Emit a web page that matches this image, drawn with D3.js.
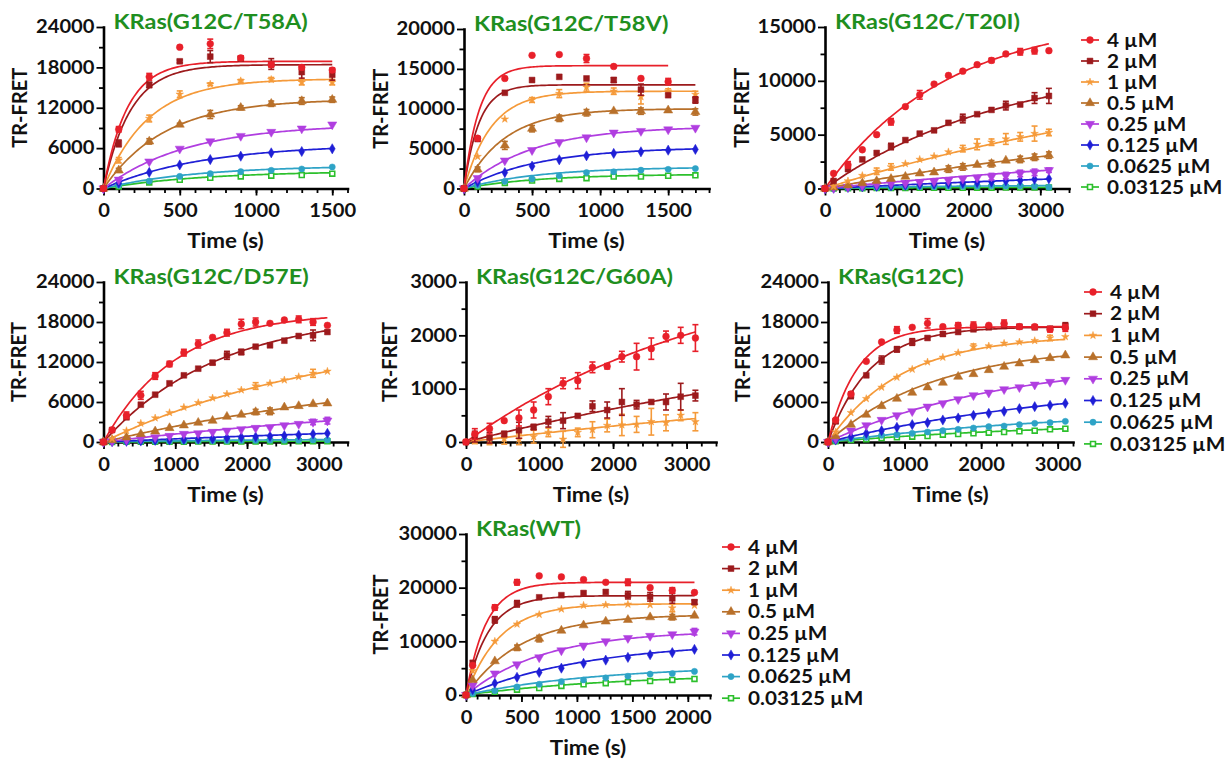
<!DOCTYPE html>
<html>
<head>
<meta charset="utf-8">
<script src="https://cdn.jsdelivr.net/npm/d3@7"></script>
<style>
  body { margin: 0; background: #fff; }
  svg text { font-family: Lato, "Open Sans", sans-serif; font-weight: 700; fill: #111; }
</style>
</head>
<body>
<svg id="chart" width="1231" height="765"></svg>
<script>
// ---- series labels / colours ----
const concLabels = ['4 µM', '2 µM', '1 µM', '0.5 µM', '0.25 µM', '0.125 µM', '0.0625 µM', '0.03125 µM'];
const seriesColors = ['#e8202a', '#9c1a1c', '#f59a3a', '#b8702a', '#b03ee0', '#1f1fd6', '#2ea3c6', '#2cc02c'];
const seriesShapes = ['circle', 'square', 'star', 'triangle', 'triangleDown', 'diamond', 'hexagon', 'squareOpen'];

// ---- KRas(G12C/T58A) ----
const t58aTimes = [0, 100, 300, 500, 700, 900, 1100, 1300, 1500];
const t58aValues = [
  [0, 8800, 16600, 21000, 21500, 19400, 18400, 18000, 17600],
  [0, 6700, 15400, 18900, 19600, 19300, 18500, 17300, 16900],
  [0, 4200, 10400, 14000, 15500, 16000, 16200, 15800, 15800],
  [0, 2700, 7000, 9500, 11000, 12000, 12600, 13000, 13200],
  [0, 1300, 4000, 5900, 7000, 7800, 8400, 8900, 9500],
  [0, 800, 2400, 3500, 4300, 4800, 5300, 5500, 5900],
  [0, 500, 1100, 1800, 2200, 2500, 2700, 2900, 3200],
  [0, 300, 900, 1300, 1600, 1800, 1900, 2000, 2200]
];
const t58aErr = [
  [0, 400, 500, 0, 700, 300, 400, 300, 300],
  [0, 500, 400, 200, 900, 300, 800, 900, 800],
  [0, 400, 500, 500, 200, 200, 300, 400, 400],
  [0, 300, 400, 200, 600, 300, 400, 500, 400]
];
const t58aPlateau = [18900, 18400, 16300, 13300, 9600, 6600, 3400, 2600];
const t58aTau = [156, 178, 290, 400, 550, 650, 600, 650];

// ---- KRas(G12C/T58V) ----
const t58vTimes = [0, 100, 300, 500, 700, 900, 1100, 1300, 1500, 1700];
const t58vValues = [
  [0, 6300, 13800, 16700, 16800, 16300, 15300, 13800, 13400],
  [0, 6200, 12000, 13600, 14000, 13800, 13600, 12400, 11700, 11100],
  [0, 4000, 8700, 11100, 11900, 12700, 12200, 11500, 12200, 11800],
  [0, 2400, 5400, 7500, 8800, 9500, 9700, 9700, 9800, 9600],
  [0, 1300, 3500, 4800, 5800, 6400, 7000, 7200, 7400, 7600],
  [0, 800, 2000, 2800, 3600, 4100, 4400, 4600, 4800, 4900],
  [0, 400, 900, 1200, 1600, 2000, 2100, 2300, 2400, 2500],
  [0, 250, 700, 1000, 1200, 1300, 1500, 1500, 1600, 1650]
];
const t58vErr = [
  [0, 0, 0, 0, 0, 500, 0, 0, 400],
  [0, 0, 0, 0, 0, 0, 300, 700, 0, 400],
  [0, 0, 0, 300, 500, 500, 400, 900, 300, 400],
  [0, 300, 500, 400, 400, 400, 0, 400, 0, 400]
];
const t58vPlateau = [15400, 13000, 12200, 10000, 7800, 5200, 2700, 1800];
const t58vTau = [110, 110, 200, 300, 500, 550, 550, 550];

// ---- KRas(G12C/T20I) ----
const t20iTimes = [0, 120, 320, 520, 720, 920, 1120, 1320, 1520, 1720, 1920, 2120, 2320, 2520, 2720, 2920, 3120];
const t20iValues = [
  [0, 1400, 2200, 3600, 5000, 6200, 7600, 8700, 9700, 10500, 10900, 11500, 11900, 12500, 12700, 12800, 12800],
  [0, 700, 1800, 2700, 3300, 3900, 4500, 5100, 5400, 6100, 6500, 6900, 7300, 7700, 7800, 8400, 8600],
  [0, 200, 700, 1200, 1600, 2000, 2300, 2700, 3000, 3400, 3700, 4100, 4300, 4600, 4800, 5100, 5200],
  [0, 100, 300, 500, 700, 900, 1100, 1400, 1500, 1800, 2000, 2200, 2300, 2600, 2700, 2900, 3100],
  [0, 50, 150, 250, 350, 450, 500, 600, 650, 750, 900, 1000, 1100, 1200, 1400, 1500, 1700],
  [0, 30, 100, 150, 200, 250, 300, 350, 400, 450, 500, 550, 600, 700, 750, 850, 900],
  [0, 20, 50, 80, 100, 120, 150, 160, 180, 200, 200, 220, 250, 230, 250, 200, 120],
  [0, 10, 20, 30, 40, 50, 50, 60, 60, 70, 70, 80, 80, 90, 90, 100, 100]
];
const t20iErr = [
  [0, 0, 300, 0, 0, 300, 0, 400, 0, 0, 0, 0, 200, 0, 300, 300, 0],
  [0, 0, 0, 0, 0, 300, 0, 0, 0, 0, 400, 0, 0, 400, 0, 500, 700],
  [0, 0, 0, 0, 300, 300, 0, 0, 0, 0, 300, 500, 300, 500, 400, 700, 300],
  [0, 0, 0, 0, 0, 0, 0, 0, 0, 300, 300, 0, 300, 0, 300, 300, 300],
  [0, 0, 0, 0, 0, 0, 0, 0, 0, 0, 0, 0, 300, 300, 300, 300, 200]
];
const t20iPlateau = [16000, 12000, 12000, 8000, 5000, 3000, 300, 120];
const t20iTau = [1700, 2500, 5500, 6500, 7500, 9000, 1500, 1500];

// ---- KRas(G12C/D57E) ----
const d57eTimes = t20iTimes;
const d57eValues = [
  [0, 1800, 4000, 7000, 9900, 11700, 13400, 14700, 15700, 16400, 17700, 18000, 17800, 18300, 18400, 18000, 17500],
  [0, 1800, 3700, 5600, 7100, 8800, 10000, 11000, 11900, 13000, 13500, 14300, 14500, 15200, 15900, 16000, 16500],
  [0, 500, 1700, 2800, 3600, 4400, 5200, 5900, 6600, 7200, 7800, 8400, 8800, 9300, 9800, 10300, 10600],
  [0, 300, 700, 1200, 1600, 2100, 2500, 2900, 3200, 3800, 4100, 4500, 4600, 5200, 5400, 5700, 5800],
  [0, 100, 300, 500, 700, 900, 1200, 1300, 1500, 1700, 1900, 2100, 2200, 2500, 2700, 3000, 3200],
  [0, 50, 100, 150, 250, 300, 400, 450, 500, 600, 700, 750, 850, 950, 1050, 1200, 1300],
  [0, 20, 50, 80, 100, 120, 150, 170, 190, 200, 220, 240, 260, 270, 280, 300, 300],
  [0, 10, 20, 30, 40, 50, 50, 60, 60, 70, 80, 80, 90, 90, 100, 100, 100]
];
const d57eErr = [
  [0, 0, 500, 600, 500, 400, 500, 600, 0, 500, 700, 600, 0, 0, 500, 500, 0],
  [0, 0, 0, 0, 0, 0, 0, 0, 300, 600, 400, 0, 0, 0, 0, 800, 0],
  [0, 0, 0, 0, 0, 0, 0, 0, 0, 0, 0, 500, 0, 0, 0, 600, 0],
  [0, 0, 0, 0, 0, 0, 0, 0, 0, 0, 0, 400, 500, 0, 0, 0, 0],
  [0, 0, 0, 0, 0, 0, 0, 0, 0, 0, 0, 0, 0, 0, 0, 400, 500]
];
const d57ePlateau = [19500, 19500, 17000, 12000, 8000, 4000, 450, 150];
const d57eTau = [1000, 1600, 3200, 4600, 6200, 8000, 2000, 2000];

// ---- KRas(G12C/G60A) ----
const g60aTimes = t20iTimes;
const g60aValues = [
  [0, 150, 250, 400, 450, 600, 850, 1100, 1150, 1400, 1420, 1600, 1600, 1750, 1980, 2000, 1950],
  [0, 100, 80, 150, 220, 280, 380, 400, 490, 670, 600, 750, 700, 750, 750, 850, 870],
  [0, 20, 30, 60, 50, 100, 180, 50, 180, 230, 310, 320, 330, 380, 360, 500, 380]
];
const g60aErr = [
  [0, 100, 100, 0, 150, 150, 150, 100, 150, 100, 50, 100, 250, 200, 100, 150, 250],
  [0, 100, 100, 50, 150, 50, 100, 150, 0, 100, 150, 250, 80, 0, 150, 250, 100],
  [0, 50, 80, 100, 100, 120, 80, 150, 80, 150, 120, 200, 150, 250, 150, 100, 170]
];
const g60aPlateau = [3500, 2500, 1500];
const g60aTau = [3500, 7000, 9000];

// ---- KRas(G12C) ----
const g12cTimes = [0, 100, 300, 500, 700, 900, 1100, 1300, 1500, 1700, 1900, 2100, 2300, 2500, 2700, 2900, 3100];
const g12cValues = [
  [0, 3300, 7200, 12100, 15000, 16800, 17200, 17800, 17300, 17500, 17500, 17500, 17800, 17300, 17300, 16900, 17100],
  [0, 3100, 7000, 10000, 12300, 13900, 15000, 15600, 16200, 16500, 16900, 17200, 17400, 17300, 17200, 17000, 17400],
  [0, 1500, 4400, 6500, 8200, 9700, 10900, 12000, 12700, 13400, 14300, 14400, 14800, 15000, 15200, 15600, 15800],
  [0, 900, 2600, 4100, 5400, 6500, 7400, 8200, 8900, 9800, 10200, 10800, 11300, 11800, 12300, 12600, 13000],
  [0, 500, 1700, 2500, 3300, 4000, 4600, 5300, 5800, 6400, 7000, 7400, 7900, 8200, 8600, 9000, 9300],
  [0, 300, 800, 1300, 1700, 2200, 2600, 2900, 3300, 3600, 4000, 4300, 4600, 5000, 5300, 5500, 5800],
  [0, 200, 500, 700, 1000, 1100, 1300, 1500, 1700, 1900, 2100, 2300, 2400, 2600, 2800, 2900, 3100],
  [0, 100, 300, 400, 600, 700, 800, 900, 1100, 1200, 1300, 1400, 1500, 1600, 1700, 1900, 2000]
];
const g12cErr = [
  [0, 0, 0, 0, 0, 500, 0, 700, 0, 400, 500, 0, 500, 300, 0, 400, 500],
  [0, 300, 500, 0, 600, 400, 500, 0, 300, 0, 0, 0, 0, 0, 0, 0, 500],
  [0, 0, 0, 0, 0, 0, 0, 0, 0, 0, 400, 0, 0, 0, 0, 400, 0]
];
const g12cPlateau = [17300, 17300, 16000, 14500, 12500, 9500, 5000, 3200];
const g12cTau = [380, 550, 950, 1400, 2300, 3300, 3200, 3200];

// ---- KRas(WT) ----
const wtTimes = [0, 60, 260, 460, 660, 860, 1060, 1260, 1460, 1660, 1860, 2060];
const wtValues = [
  [0, 5500, 16300, 21000, 22200, 22000, 21500, 21000, 21000, 20000, 19500, 19100],
  [0, 6000, 14000, 17000, 18200, 18600, 19000, 19200, 18600, 18300, 18000, 17300],
  [0, 4500, 10000, 13200, 15000, 16000, 16700, 16800, 16900, 16800, 16200, 16700],
  [0, 2800, 6300, 8800, 10500, 12000, 13000, 13700, 14000, 14500, 14500, 14800],
  [0, 1800, 4000, 5700, 7000, 8300, 9200, 10000, 10600, 11000, 11300, 11800],
  [0, 1000, 2200, 3300, 4200, 5000, 5900, 6500, 7000, 7500, 7900, 8500],
  [0, 300, 800, 1500, 2000, 2500, 2800, 3200, 3500, 3900, 4000, 4400],
  [0, 200, 600, 1000, 1300, 1700, 2000, 2200, 2400, 2600, 2800, 3000]
];
const wtErr = [
  [0, 0, 500, 500, 0, 0, 0, 0, 600, 0, 500, 0],
  [0, 0, 600, 600, 0, 0, 0, 0, 700, 800, 900, 400],
  [0, 0, 0, 0, 0, 0, 0, 0, 0, 0, 700, 0],
  [0, 0, 0, 500, 600, 0, 0, 0, 0, 0, 500, 0],
  [0, 0, 0, 0, 0, 0, 0, 0, 0, 0, 0, 600]
];
const wtPlateau = [21000, 18500, 17000, 15000, 12000, 10000, 5500, 4000];
const wtTau = [180, 200, 300, 500, 700, 1100, 1200, 1400];

// ---- axis ticks ----
const yTicks24k = [0, 6000, 12000, 18000, 24000];
const yTicks20k = [0, 5000, 10000, 15000, 20000];
const yTicks15k = [0, 5000, 10000, 15000];
const yTicks3k = [0, 1000, 2000, 3000];
const yTicks30k = [0, 10000, 20000, 30000];
const xTicks1500 = [0, 500, 1000, 1500];
const xTicks3000 = [0, 1000, 2000, 3000];
const xTicks2000 = [0, 500, 1000, 1500, 2000];

// ---- layout ----
const panels = [
  {title: 'KRas(G12C/T58A)', times: t58aTimes, values: t58aValues, err: t58aErr, plateau: t58aPlateau, tau: t58aTau,
   xMax: 1600, xMinor: 100, xTicks: xTicks1500, yTicks: yTicks24k, yMinor: 3000,
   x0: 103.5, w: 244, yT: 27, yB: 188.5, labelGap: 84},
  {title: 'KRas(G12C/T58V)', times: t58vTimes, values: t58vValues, err: t58vErr, plateau: t58vPlateau, tau: t58vTau,
   xMax: 1800, xMinor: 100, xTicks: xTicks1500, yTicks: yTicks20k, yMinor: 2500,
   x0: 464, w: 245, yT: 29, yB: 188.5, labelGap: 83},
  {title: 'KRas(G12C/T20I)', times: t20iTimes, values: t20iValues, err: t20iErr, plateau: t20iPlateau, tau: t20iTau,
   xMax: 3400, xMinor: 200, xTicks: xTicks3000, yTicks: yTicks15k, yMinor: 2500,
   x0: 825, w: 244, yT: 27, yB: 188.5, labelGap: 83,
   legend: {x: 1107, y: 40, step: 21}},
  {title: 'KRas(G12C/D57E)', times: d57eTimes, values: d57eValues, err: d57eErr, plateau: d57ePlateau, tau: d57eTau,
   xMax: 3400, xMinor: 200, xTicks: xTicks3000, yTicks: yTicks24k, yMinor: 3000,
   x0: 103.5, w: 244, yT: 282, yB: 442, labelGap: 85},
  {title: 'KRas(G12C/G60A)', times: g60aTimes, values: g60aValues, err: g60aErr, plateau: g60aPlateau, tau: g60aTau,
   xMax: 3400, xMinor: 200, xTicks: xTicks3000, yTicks: yTicks3k, yMinor: 500,
   x0: 466, w: 250, yT: 282, yB: 442, labelGap: 76},
  {title: 'KRas(G12C)', times: g12cTimes, values: g12cValues, err: g12cErr, plateau: g12cPlateau, tau: g12cTau,
   xMax: 3200, xMinor: 200, xTicks: xTicks3000, yTicks: yTicks24k, yMinor: 3000,
   x0: 828, w: 245, yT: 282, yB: 442, labelGap: 85,
   legend: {x: 1110, y: 292, step: 21.7}},
  {title: 'KRas(WT)', times: wtTimes, values: wtValues, err: wtErr, plateau: wtPlateau, tau: wtTau,
   xMax: 2200, xMinor: 100, xTicks: xTicks2000, yTicks: yTicks30k, yMinor: 5000,
   x0: 466, w: 244, yT: 534, yB: 695, labelGap: 85,
   legend: {x: 748, y: 547, step: 21.6}}
];

const svg = d3.select('#chart');

function symbolPath(shape) {
  const types = {
    circle: [d3.symbolCircle, 36], square: [d3.symbolSquare, 34], star: [d3.symbolStar, 18],
    triangle: [d3.symbolTriangle, 36], triangleDown: [d3.symbolTriangle, 36], diamond: [d3.symbolDiamond, 30],
    hexagon: [d3.symbolCircle, 30], squareOpen: [d3.symbolSquare, 24]
  };
  const [type, size] = types[shape];
  return d3.symbol().type(type).size(size)();
}

function marker(g, i, cx, cy) {
  const shape = seriesShapes[i];
  const rot = shape === 'triangleDown' ? ' rotate(180)' : '';
  g.append('path')
    .attr('d', symbolPath(shape))
    .attr('transform', `translate(${cx},${cy})${rot}`)
    .attr('fill', shape === 'squareOpen' ? '#fff' : seriesColors[i])
    .attr('stroke', seriesColors[i])
    .attr('stroke-width', shape === 'squareOpen' ? 1.6 : 0.5);
}

panels.forEach(p => {
  const g = svg.append('g');
  const x = d3.scaleLinear().domain([0, p.xMax]).range([p.x0, p.x0 + p.w]);
  const y = d3.scaleLinear().domain([0, d3.max(p.yTicks)]).range([p.yB, p.yT]);

  // Minor ticks
  g.append('g').attr('class', 'minor')
    .attr('transform', `translate(0,${p.yB})`)
    .call(d3.axisBottom(x).tickValues(d3.range(0, p.xMax + 1, p.xMinor)).tickSize(4.5).tickFormat(''));
  g.append('g').attr('class', 'minor')
    .attr('transform', `translate(${p.x0},0)`)
    .call(d3.axisLeft(y).tickValues(d3.range(p.yMinor, d3.max(p.yTicks), p.yMinor * 2)).tickSize(4.5).tickFormat(''));
  g.selectAll('.minor .domain').remove();

  // Major axes
  const xAxis = g.append('g')
    .attr('transform', `translate(0,${p.yB})`)
    .call(d3.axisBottom(x).tickValues(p.xTicks).tickSize(7).tickSizeOuter(0).tickPadding(9).tickFormat(d3.format('d')));
  const yAxis = g.append('g')
    .attr('transform', `translate(${p.x0},0)`)
    .call(d3.axisLeft(y).tickValues(p.yTicks).tickSize(7).tickSizeOuter(0).tickPadding(2).tickFormat(d3.format('d')));
  [xAxis, yAxis].forEach(a => {
    a.select('.domain').attr('stroke', '#000').attr('stroke-width', 2.6).attr('stroke-linecap', 'square');
    a.selectAll('text').attr('font-size', 18).attr('fill', '#111');
  });
  g.selectAll('.tick line').attr('stroke', '#000').attr('stroke-width', 1.8);

  // Fitted curves, then error bars and points, lowest concentration first
  const line = d3.line().x(d => x(d[0])).y(d => y(d[1]));
  const order = d3.range(p.values.length).reverse();
  order.forEach(i => {
    const tEnd = p.times[p.values[i].length - 1];
    const fit = d3.range(0, 121).map(k => {
      const t = tEnd * k / 120;
      return [t, p.plateau[i] * (1 - Math.exp(-t / p.tau[i]))];
    });
    g.append('path').datum(fit)
      .attr('d', line)
      .attr('fill', 'none')
      .attr('stroke', seriesColors[i])
      .attr('stroke-width', 1.7);
  });
  order.forEach(i => {
    const eg = g.append('g').attr('stroke', seriesColors[i]).attr('stroke-width', 1.6);
    const errs = p.err[i] || [];
    p.values[i].forEach((v, j) => {
      const e = errs[j] || 0;
      if (e <= 0) return;
      const cx = x(p.times[j]);
      eg.append('line').attr('x1', cx).attr('x2', cx).attr('y1', y(v - e)).attr('y2', y(v + e));
      eg.append('line').attr('x1', cx - 3).attr('x2', cx + 3).attr('y1', y(v - e)).attr('y2', y(v - e));
      eg.append('line').attr('x1', cx - 3).attr('x2', cx + 3).attr('y1', y(v + e)).attr('y2', y(v + e));
    });
    const mg = g.append('g');
    p.values[i].forEach((v, j) => marker(mg, i, x(p.times[j]), y(v)));
  });

  // Titles and axis labels
  g.append('text')
    .attr('x', p.x0 + 10).attr('y', p.yT + 2)
    .attr('font-size', 21)
    .style('fill', '#1f8f1f')
    .text(p.title);
  g.append('text')
    .attr('x', p.x0 + p.w / 2).attr('y', p.yB + 60)
    .attr('text-anchor', 'middle')
    .attr('font-size', 20)
    .text('Time (s)');
  g.append('text')
    .attr('class', 'vertical')
    .attr('transform', `translate(${p.x0 - p.labelGap},${(p.yT + p.yB) / 2}) rotate(-90)`)
    .attr('text-anchor', 'middle')
    .attr('dy', '0.35em')
    .attr('font-size', 20)
    .text('TR-FRET');

  // Legend
  if (p.legend) {
    const lg = g.append('g');
    concLabels.forEach((label, i) => {
      const ly = p.legend.y + i * p.legend.step;
      lg.append('line')
        .attr('x1', p.legend.x - 26).attr('x2', p.legend.x - 8)
        .attr('y1', ly).attr('y2', ly)
        .attr('stroke', seriesColors[i]).attr('stroke-width', 1.7);
      marker(lg, i, p.legend.x - 17, ly);
      lg.append('text')
        .attr('x', p.legend.x).attr('y', ly)
        .attr('dy', '0.36em')
        .attr('font-size', 18.5)
        .text(label);
    });
  }
});

// widen horizontal text slightly to match the reference's wide bold face
svg.selectAll('text').each(function() {
  const t = d3.select(this);
  if (t.classed('vertical')) return;
  const tx = +t.attr('x') || 0, ty = +t.attr('y') || 0;
  t.attr('transform', `translate(${tx},${ty}) scale(1.12,1) translate(${-tx},${-ty})`);
});
</script>
</body>
</html>
